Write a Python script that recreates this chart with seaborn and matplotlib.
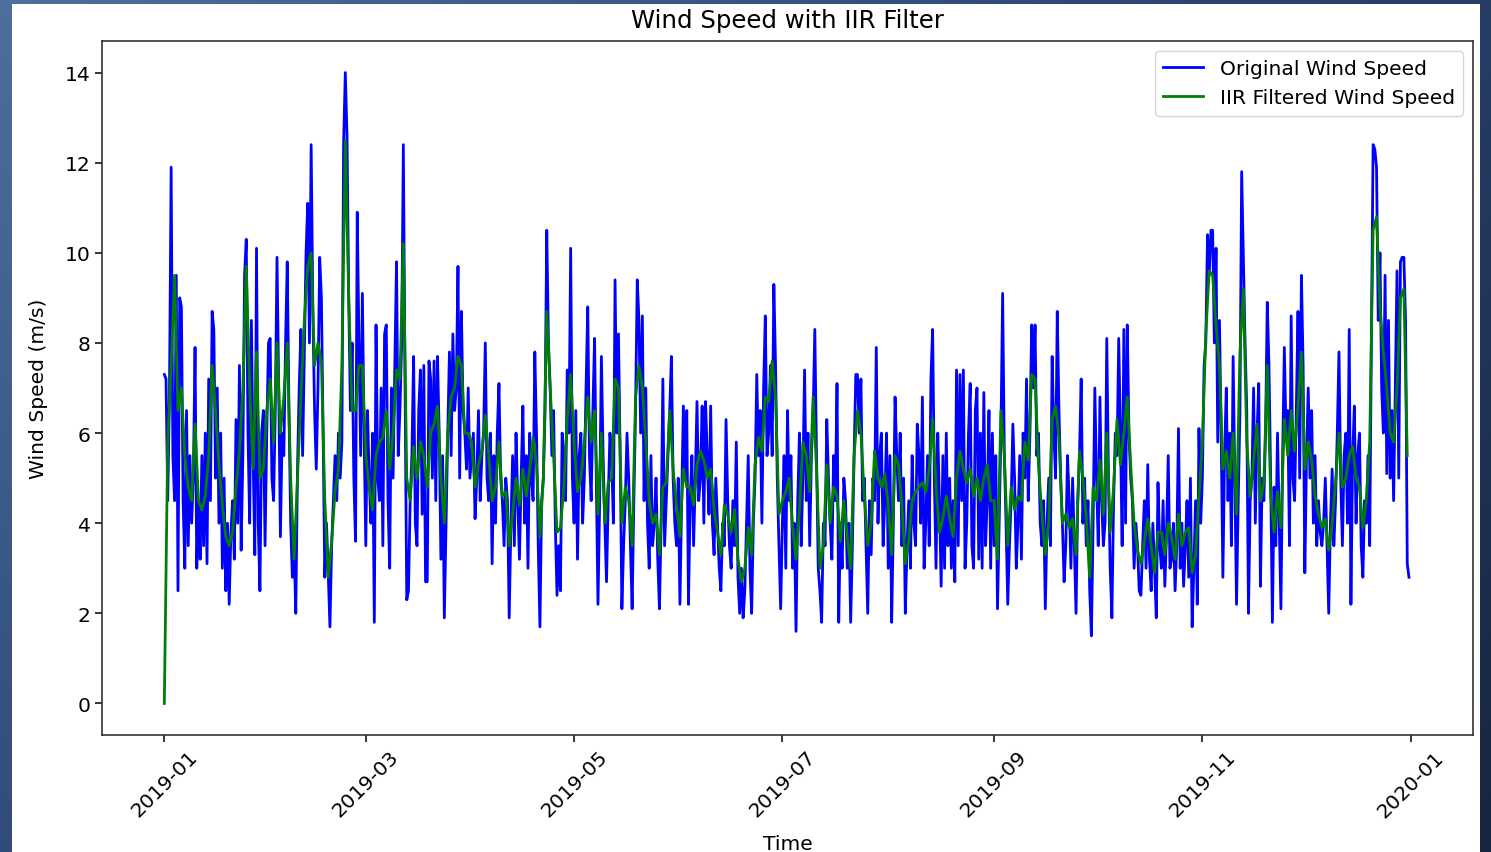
import numpy as np
import pandas as pd
import matplotlib
matplotlib.use("Agg")
import matplotlib.pyplot as plt
import matplotlib.dates as mdates
from matplotlib.patches import Rectangle
from matplotlib.colors import LinearSegmentedColormap
import seaborn as sns

# ---------------- data ----------------
# Original wind speed, two readings per day (00:00, 12:00), m/s
orig_jan = [7.3,7.2, 4.5,6.8, 11.9,5.5, 4.5,9.5, 2.5,9.0, 8.8,4.5, 3.0,6.5, 3.5,5.5, 4.0,5.0, 7.9,3.0,
            4.5,3.2, 5.5,3.5, 6.0,3.1, 7.2,4.5, 8.7,8.3, 5.0,7.0, 4.0,6.0, 3.0,5.0, 2.5,4.0, 2.2,3.8,
            4.5,3.2, 6.3,4.0, 7.5,3.4, 5.5,9.5, 10.3,6.0, 4.0,8.5, 5.5,3.3, 10.1,4.0, 2.5,6.0, 6.5,3.5,
            6.0,8.0]
orig_feb = [8.1,5.0, 4.5,6.5, 9.9,7.0, 3.7,6.0, 5.5,8.0, 9.8,6.5, 4.0,2.8, 3.5,2.0, 5.2,7.0, 8.3,5.5,
            7.8,10.0, 11.1,8.0, 12.4,8.7, 6.5,5.2, 7.0,9.9, 9.0,6.0, 2.8,4.0, 2.9,1.7, 3.5,4.5, 5.5,4.5,
            6.0,5.0, 5.8,12.4, 14.0,12.6, 9.0,6.5, 8.0,5.0, 3.6,10.9, 8.0,5.5, 9.1,6.0]
orig_mar = [3.5,6.5, 5.0,4.0, 6.0,1.8, 8.4,5.0, 4.5,7.0, 3.5,8.2, 8.4,4.5, 3.0,7.0, 5.0,7.5, 9.8,5.5,
            6.5,8.0, 12.4,7.0, 2.3,2.5, 4.5,5.5, 7.7,4.0, 3.5,6.5, 7.4,4.2, 7.5,2.7, 2.7,7.6, 7.2,5.0,
            7.6,4.5, 7.7,6.0, 3.2,5.5, 1.9,4.0, 6.0,7.8, 5.5,8.2, 6.5,7.0, 9.7,5.0, 8.7,6.5, 6.0,5.2,
            7.0,5.0]
orig_apr = [5.5,6.0, 4.1,5.0, 6.5,4.5, 5.5,6.0, 8.0,5.0, 4.5,6.0, 3.1,5.5, 4.0,6.0, 7.1,5.0, 4.5,3.5,
            5.0,4.5, 1.9,4.0, 5.5,3.5, 6.0,4.5, 3.2,5.0, 6.6,4.0, 5.5,3.0, 6.0,5.0, 4.5,7.8, 6.0,3.5,
            1.7,4.5, 5.0,6.5, 10.5,8.0, 7.0,5.5, 6.5,4.0, 2.4,3.5, 2.5,6.0, 5.5,4.5, 7.4,6.0, 10.1,5.0]
orig_may = [4.0,6.5, 3.2,5.5, 6.0,4.0, 5.0,7.0, 8.8,5.5, 4.5,6.5, 8.1,5.0, 2.2,4.5, 7.7,5.5, 4.0,2.7,
            4.5,6.0, 5.5,4.0, 9.4,6.0, 8.2,5.5, 2.1,3.5, 4.5,6.0, 5.0,3.5, 2.1,4.5, 6.5,9.4, 8.5,6.0,
            8.6,4.5, 7.0,4.0, 3.0,5.5, 3.5,4.0, 5.0,3.2, 2.1,4.0, 7.2,3.5, 4.5,5.5, 6.5,7.7, 5.0,4.0,
            3.5,5.0]
orig_jun = [2.2,4.5, 6.6,5.0, 6.5,2.2, 4.5,5.5, 3.5,5.0, 6.7,4.5, 5.0,6.6, 4.0,6.7, 5.5,4.2, 6.6,4.0,
            3.3,5.0, 4.0,3.0, 2.5,4.0, 3.5,6.3, 4.5,3.5, 3.0,4.5, 3.5,5.8, 2.8,2.0, 3.0,1.9, 2.5,4.0,
            5.5,3.0, 2.0,4.0, 5.0,7.3, 5.5,6.5, 4.0,7.0, 8.6,5.5, 6.0,7.5, 5.5,9.3, 7.5,5.0, 3.5,2.1]
orig_jul = [4.0,5.5, 3.0,6.5, 4.5,5.5, 3.0,4.0, 1.6,4.5, 6.0,3.5, 5.0,7.4, 4.5,6.0, 3.5,5.5, 6.4,8.3,
            5.5,3.0, 2.5,1.8, 4.0,3.5, 6.3,5.0, 4.0,3.2, 5.5,4.5, 7.1,1.8, 4.0,3.0, 5.0,4.5, 3.0,4.0,
            1.8,3.5, 5.5,7.3, 7.3,6.0, 7.2,4.5, 5.0,3.5, 2.0,4.5, 3.3,5.0, 4.5,7.9, 4.0,5.5, 6.0,3.5,
            4.5,6.0]
orig_aug = [3.0,5.5, 1.8,4.0, 6.8,5.5, 4.5,6.0, 3.5,5.0, 2.0,3.5, 4.5,3.0, 5.5,4.0, 3.5,6.2, 5.5,4.0,
            6.8,3.0, 4.0,5.5, 3.5,7.2, 8.3,5.0, 3.0,6.0, 4.5,2.6, 5.5,3.0, 6.0,3.5, 5.0,3.0, 4.5,2.7,
            7.4,3.5, 7.3,4.5, 7.4,3.0, 4.0,6.0, 7.1,3.5, 3.0,6.5, 7.0,3.2, 6.0,3.0, 6.9,3.5, 4.5,6.5,
            3.0,6.0]
orig_sep = [3.5,5.5, 2.1,4.0, 6.0,9.1, 5.5,4.0, 2.2,3.5, 4.5,6.2, 5.0,3.0, 4.0,5.5, 3.2,6.0, 5.0,7.2,
            4.5,6.0, 8.4,7.0, 8.4,5.5, 6.0,4.0, 3.5,4.5, 2.1,4.0, 5.0,3.5, 7.7,6.0, 5.0,8.7, 6.5,5.0,
            4.0,2.7, 3.5,5.5, 4.5,3.0, 5.0,3.5, 2.0,4.5, 5.5,7.2, 4.0,5.0, 3.5,4.5, 2.5,1.5, 4.0,7.0]
orig_oct = [5.0,3.5, 6.8,4.5, 3.5,4.0, 8.1,5.0, 3.0,1.9, 4.5,6.0, 5.5,8.1, 6.0,3.5, 8.3,4.0, 8.4,6.0,
            5.0,4.5, 3.0,4.0, 3.5,2.5, 2.4,3.5, 4.5,3.0, 5.3,3.2, 2.5,4.0, 3.0,1.9, 4.9,3.5, 3.0,4.5,
            2.6,3.8, 5.5,3.0, 3.2,4.0, 2.5,3.5, 6.1,3.0, 4.0,2.6, 3.5,4.5, 2.8,5.0, 1.7,3.0, 4.5,2.2,
            6.1,4.0]
orig_nov = [5.0,7.5, 8.0,10.4, 9.5,10.5, 10.5,8.0, 10.1,5.8, 8.5,6.0, 2.8,5.5, 7.0,4.5, 6.0,3.5, 7.7,5.0,
            2.2,4.5, 6.5,11.8, 9.9,8.0, 6.5,2.0, 4.5,5.0, 7.0,4.0, 6.0,7.1, 2.6,5.0, 4.5,6.0, 8.9,7.5,
            5.0,1.8, 4.8,3.5, 6.0,4.0, 2.1,5.5, 7.9,6.0, 6.5,3.5, 8.6,5.0, 4.5,6.5, 8.7,5.0, 9.5,7.5]
orig_dec = [2.9,5.5, 7.0,5.0, 6.5,4.0, 5.5,3.5, 4.5,3.8, 3.5,4.0, 5.0,3.5, 2.0,4.0, 5.2,3.5, 4.5,6.0,
            7.8,5.0, 3.5,5.5, 6.0,4.0, 8.3,2.2, 5.5,6.6, 4.0,5.5, 6.0,3.5, 2.8,4.5, 4.0,5.5, 3.5,8.2,
            12.4,12.3, 11.9,8.5, 10.0,7.0, 6.0,9.5, 5.1,8.5, 5.0,6.5, 4.5,7.0, 9.6,5.0, 9.8,9.9, 9.9,8.5,
            3.1,2.8]

# IIR filtered wind speed, one value per day, m/s
filt_jan = [0.0,5.8,7.5,9.5,6.5,7.0,5.5,4.8,4.5,6.2,4.5,4.3,4.6,5.5,7.5,6.5,5.3,4.4,3.7,3.5,
            3.8,4.8,5.6,7.0,9.7,7.0,5.2,7.8,5.0,5.2,6.5]
filt_feb = [7.2,5.8,8.0,6.0,6.8,8.0,5.0,3.2,5.0,6.8,8.5,9.7,10.0,7.5,8.0,7.6,4.5,2.8,3.6,4.7,
            5.2,7.5,12.5,9.0,6.5,6.5,7.5,7.5]
filt_mar = [5.5,4.8,4.3,5.5,5.8,5.9,6.5,5.2,6.0,7.4,7.2,10.2,5.0,4.5,5.7,5.0,5.8,5.5,4.8,6.0,
            6.2,6.6,5.0,4.0,6.0,6.8,7.0,7.7,7.5,6.0,6.0]
filt_apr = [5.8,4.8,5.3,5.6,6.4,5.5,4.5,4.8,5.8,4.6,4.7,3.5,4.2,5.0,4.4,5.2,4.6,5.2,5.9,5.3,
            3.7,5.0,8.7,7.0,5.5,3.8,3.9,4.8,6.3,7.3]
filt_may = [5.8,4.7,5.0,5.8,6.8,5.8,6.5,4.2,6.0,4.0,4.9,5.0,7.2,7.0,4.0,4.8,4.5,3.5,6.8,7.5,
            7.0,5.8,4.5,4.0,4.2,3.3,4.8,4.9,6.5,5.2,4.4]
filt_jun = [3.7,5.2,4.8,4.8,4.4,5.3,5.6,5.4,5.0,5.2,4.3,3.8,3.3,4.4,4.2,3.8,4.3,3.2,2.7,3.0,
            3.9,3.3,5.3,5.9,5.6,6.8,6.7,7.6,6.8,4.2]
filt_jul = [4.5,4.7,5.0,3.9,3.2,4.3,5.8,5.5,4.7,6.8,5.2,3.0,3.5,5.3,4.0,4.8,4.6,3.6,4.5,3.7,
            3.0,5.5,6.5,6.0,4.6,3.5,4.0,5.6,5.0,4.8,5.1]
filt_aug = [4.4,3.3,5.5,5.3,4.4,3.1,3.6,4.5,4.7,4.8,4.9,4.7,5.2,6.3,4.8,3.8,4.1,4.6,4.1,3.7,
            5.0,5.6,5.2,4.9,5.2,4.6,5.0,4.5,5.0,5.3,4.5]
filt_sep = [4.5,3.2,6.5,5.5,3.5,4.8,4.3,4.6,4.5,5.8,5.4,7.3,7.2,5.3,4.2,3.3,4.0,6.3,6.6,5.9,
            4.0,4.2,3.9,4.1,3.3,5.6,5.0,4.1,2.8,4.8]
filt_oct = [4.5,5.4,4.2,6.0,3.8,4.8,6.3,5.3,6.0,6.8,5.3,4.0,3.4,3.1,3.6,4.1,3.5,2.9,3.8,3.8,
            3.3,4.0,3.7,3.2,4.2,3.5,3.8,3.9,2.9,3.3,4.6]
filt_nov = [5.8,8.2,9.6,9.5,8.4,7.5,5.2,5.6,5.0,6.0,4.2,7.8,9.2,5.8,4.6,5.4,6.2,4.5,4.9,7.5,
            4.6,3.8,4.7,3.9,6.3,5.5,6.5,5.6,6.6,7.8]
filt_dec = [5.2,5.8,5.4,4.6,4.2,3.9,4.1,3.4,4.0,4.9,6.0,4.8,5.0,5.5,5.7,5.0,4.8,3.9,4.5,5.8,
            10.5,10.8,8.8,7.8,7.0,6.0,5.8,7.0,9.0,9.2,5.5]

title = "Wind Speed with IIR Filter"
xlabel = "Time"
ylabel = "Wind Speed (m/s)"
label_orig = "Original Wind Speed"
label_filt = "IIR Filtered Wind Speed"

# ---------------- assemble ----------------
orig_vals = sum([orig_jan, orig_feb, orig_mar, orig_apr, orig_may, orig_jun,
                 orig_jul, orig_aug, orig_sep, orig_oct, orig_nov, orig_dec], [])
filt_vals = sum([filt_jan, filt_feb, filt_mar, filt_apr, filt_may, filt_jun,
                 filt_jul, filt_aug, filt_sep, filt_oct, filt_nov, filt_dec], [])

df_orig = pd.DataFrame({"Time": pd.date_range("2019-01-01", periods=len(orig_vals), freq="12h"),
                        "Speed": orig_vals})
df_filt = pd.DataFrame({"Time": pd.date_range("2019-01-01", periods=len(filt_vals), freq="D"),
                        "Speed": filt_vals})

# ---------------- figure ----------------
W, H = 1491, 853
fig = plt.figure(figsize=(W / 100, H / 100), dpi=100)

# slide-like dark blue gradient background with a white sheet
bg = fig.add_axes([0, 0, 1, 1], zorder=-10)
cmap = LinearSegmentedColormap.from_list("slide", ["#4d6f9c", "#2a4470", "#172640"])
gx, gy = np.meshgrid(np.linspace(0, 1, 200), np.linspace(0, 1, 120))
bg.imshow(0.6 * gx + 0.4 * gy, cmap=cmap, aspect="auto", extent=[0, 1, 0, 1], origin="upper")
bg.set_axis_off()
fig.patches.append(Rectangle((12 / W, 0), (1480 - 12) / W, (H - 5) / H,
                             transform=fig.transFigure, facecolor="white",
                             edgecolor="none", zorder=-5))

ax = fig.add_axes([102 / W, (H - 736) / H, (1473 - 102) / W, (736 - 42) / H], zorder=1)
ax.set_facecolor("white")

fs = 14.6
sns.lineplot(data=df_orig, x="Time", y="Speed", ax=ax, color="blue",
             linewidth=2.0, label=label_orig)
sns.lineplot(data=df_filt, x="Time", y="Speed", ax=ax, color="green",
             linewidth=2.0, label=label_filt)

start = mdates.date2num(pd.Timestamp("2019-01-01"))
ax.set_xlim(start - 18.25, start + 365 + 18.25)
ax.set_ylim(-0.7, 14.7)
ax.set_yticks([0, 2, 4, 6, 8, 10, 12, 14])
ax.xaxis.set_major_locator(mdates.MonthLocator(bymonth=[1, 3, 5, 7, 9, 11]))
ax.xaxis.set_major_formatter(mdates.DateFormatter("%Y-%m"))
ax.tick_params(axis="both", labelsize=fs, length=5, width=1.1)
for lbl in ax.get_xticklabels():
    lbl.set_rotation(45)

ax.set_title(title, fontsize=fs * 1.2, pad=10)
ax.set_xlabel(xlabel, fontsize=fs, labelpad=10)
ax.set_ylabel(ylabel, fontsize=fs, labelpad=12)
for s in ax.spines.values():
    s.set_linewidth(1.2)
    s.set_color("#333333")

ax.legend(loc="upper right", fontsize=fs, frameon=True)

fig.savefig("out.png", dpi=100)
